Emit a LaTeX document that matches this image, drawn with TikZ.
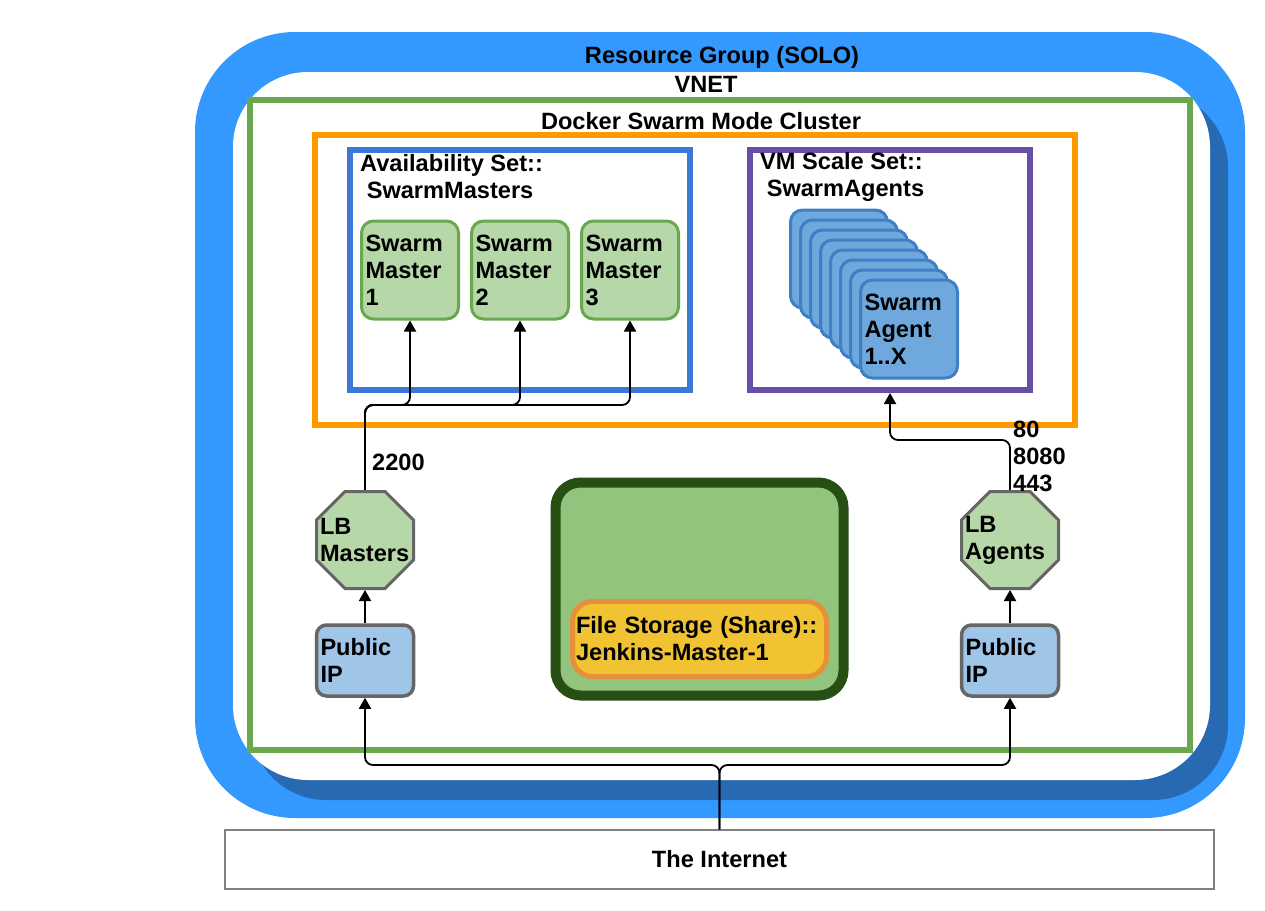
\documentclass[tikz,border=0pt]{standalone}
\usepackage{fontspec}
\setmainfont{Liberation Sans}
\usepackage{tikz}
\usetikzlibrary{shapes.geometric,arrows.meta}
\definecolor{rgblue}{HTML}{3399FF}
\definecolor{rgshade}{HTML}{276AB2}
\definecolor{vnetgreen}{HTML}{6AA84F}
\definecolor{clusterorange}{HTML}{FF9900}
\definecolor{asblue}{HTML}{3C78D8}
\definecolor{vmsspurple}{HTML}{674EA7}
\definecolor{masterfill}{HTML}{B6D7A8}
\definecolor{agentfill}{HTML}{6FA8DC}
\definecolor{agentline}{HTML}{3D80C6}
\definecolor{ipfill}{HTML}{9FC5E8}
\definecolor{greyline}{HTML}{666666}
\definecolor{storefill}{HTML}{93C47D}
\definecolor{storeline}{HTML}{274E13}
\definecolor{sharefill}{HTML}{F1C232}
\definecolor{shareline}{HTML}{E69138}

\begin{document}
\begin{tikzpicture}[x=1pt, y=-1pt, font=\bfseries\fontsize{23.6}{27}\selectfont]
    \tikzstyle{boxframe} = [rectangle, draw, line width=6pt, inner sep=0pt]
    \tikzstyle{vm} = [rectangle, rounded corners=12pt, draw, line width=3pt, align=left, inner xsep=4pt, inner ysep=0pt, text width=89pt, minimum height=98pt]
    \tikzstyle{lb} = [regular polygon, regular polygon sides=8, draw=greyline, fill=masterfill, line width=3pt, minimum size=105pt, inner sep=0pt]
    \tikzstyle{lbtext} = [align=left, text width=90pt, inner sep=0pt]
    \tikzstyle{pip} = [rectangle, rounded corners=10pt, draw=greyline, fill=ipfill, line width=3.5pt, align=left, inner xsep=4pt, inner ysep=0pt, text width=89pt, minimum height=71pt]
    \tikzstyle{link} = [draw, line width=1.8pt, rounded corners=8pt, -{Triangle[width=12pt,length=11pt]}]
    \useasboundingbox (0,0) rectangle (1265,910);
    \fill[rgblue, rounded corners=100pt] (195,32) rectangle (1245,818);
    \fill[rgshade, rounded corners=75pt] (251,92) rectangle (1228,800);
    \fill[white, rounded corners=75pt] (233,72) rectangle (1210,780);
    \node (rg) at (722,57) {Resource Group (SOLO)};
    \node (vnetlabel) at (706,84) {VNET};
    \node[boxframe, draw=vnetgreen, minimum width=940pt, minimum height=650pt] (vnet) at (720,425) {};
    \node (clusterlabel) at (701,121) {Docker Swarm Mode Cluster};
    \node[boxframe, draw=clusterorange, minimum width=760pt, minimum height=290pt] (cluster) at (695,280) {};
    \node[boxframe, draw=asblue, minimum width=340pt, minimum height=240pt] (avset) at (520,270) {};
    \node[boxframe, draw=vmsspurple, minimum width=280pt, minimum height=240pt] (vmss) at (890,270) {};
    \node[anchor=west, align=left, inner sep=0pt] (avlabel) at (360,176.5) {Availability Set::\\\ SwarmMasters};
    \node[anchor=west, align=left, inner sep=0pt] (vmsslabel) at (760,176.5) {VM Scale Set::\\\ SwarmAgents};
    \foreach \i/\x in {1/410,2/520,3/630} {
        \node[vm, draw=vnetgreen, fill=masterfill] (sm\i) at (\x,270) {Swarm\\Master\\\i};
    }
    \foreach \k in {0,...,6} {
        \node[vm, draw=agentline, fill=agentfill] (ag\k) at (839+10*\k, 259+10*\k) {};
    }
    \node[vm, draw=agentline, fill=agentfill] (agfront) at (909,329) {Swarm\\Agent\\1..X};
    \node[lb] (lbm) at (365,540) {};
    \node[lbtext] (lbmtext) at (lbm.center) {LB\\Masters};
    \node[lb] (lba) at (1010,540) {};
    \node[lbtext] (lbatext) at (lba.center) {LB\\Agents};
    \node[pip] (pipm) at (365,660.5) {Public\\IP};
    \node[pip] (pipa) at (1010,660.5) {Public\\IP};
    \node[rectangle, rounded corners=25pt, draw=storeline, fill=storefill, line width=10pt, minimum width=288pt, minimum height=213pt] (storage) at (699.5,589) {};
    \node[rectangle, rounded corners=20pt, draw=shareline, fill=sharefill, line width=5pt, align=left, text width=247pt, inner xsep=3.5pt, inner ysep=0pt, minimum height=75pt] (share) at (699.5,639) {File Storage (Share)::\\Jenkins-Master-1};
    \node[rectangle, draw=gray, line width=1.5pt, minimum width=989pt, minimum height=59pt] (inet) at (719.5,859.5) {The Internet};
    \node[anchor=west, inner sep=0pt] (port2200) at (372,462) {2200};
    \node[anchor=west, align=left, inner sep=0pt] (agentports) at (1013,456) {80\\8080\\443};
    \coordinate (mbus) at (0,405);
    \coordinate (abus) at (0,440);
    \coordinate (ibus) at (0,765);
    \foreach \i in {1,2,3} {
        \draw[link] (lbm.north) -- (lbm.north |- mbus) -| (sm\i.south);
    }
    \draw[link] (lba.north) -- (lba.north |- abus) -| (vmss.south);
    \draw[link] (pipm.north) -- (lbm.south);
    \draw[link] (pipa.north) -- (lba.south);
    \foreach \p in {pipm,pipa} {
        \draw[link] (inet.north) -- (inet.north |- ibus) -| (\p.south);
    }
\end{tikzpicture}
\end{document}
